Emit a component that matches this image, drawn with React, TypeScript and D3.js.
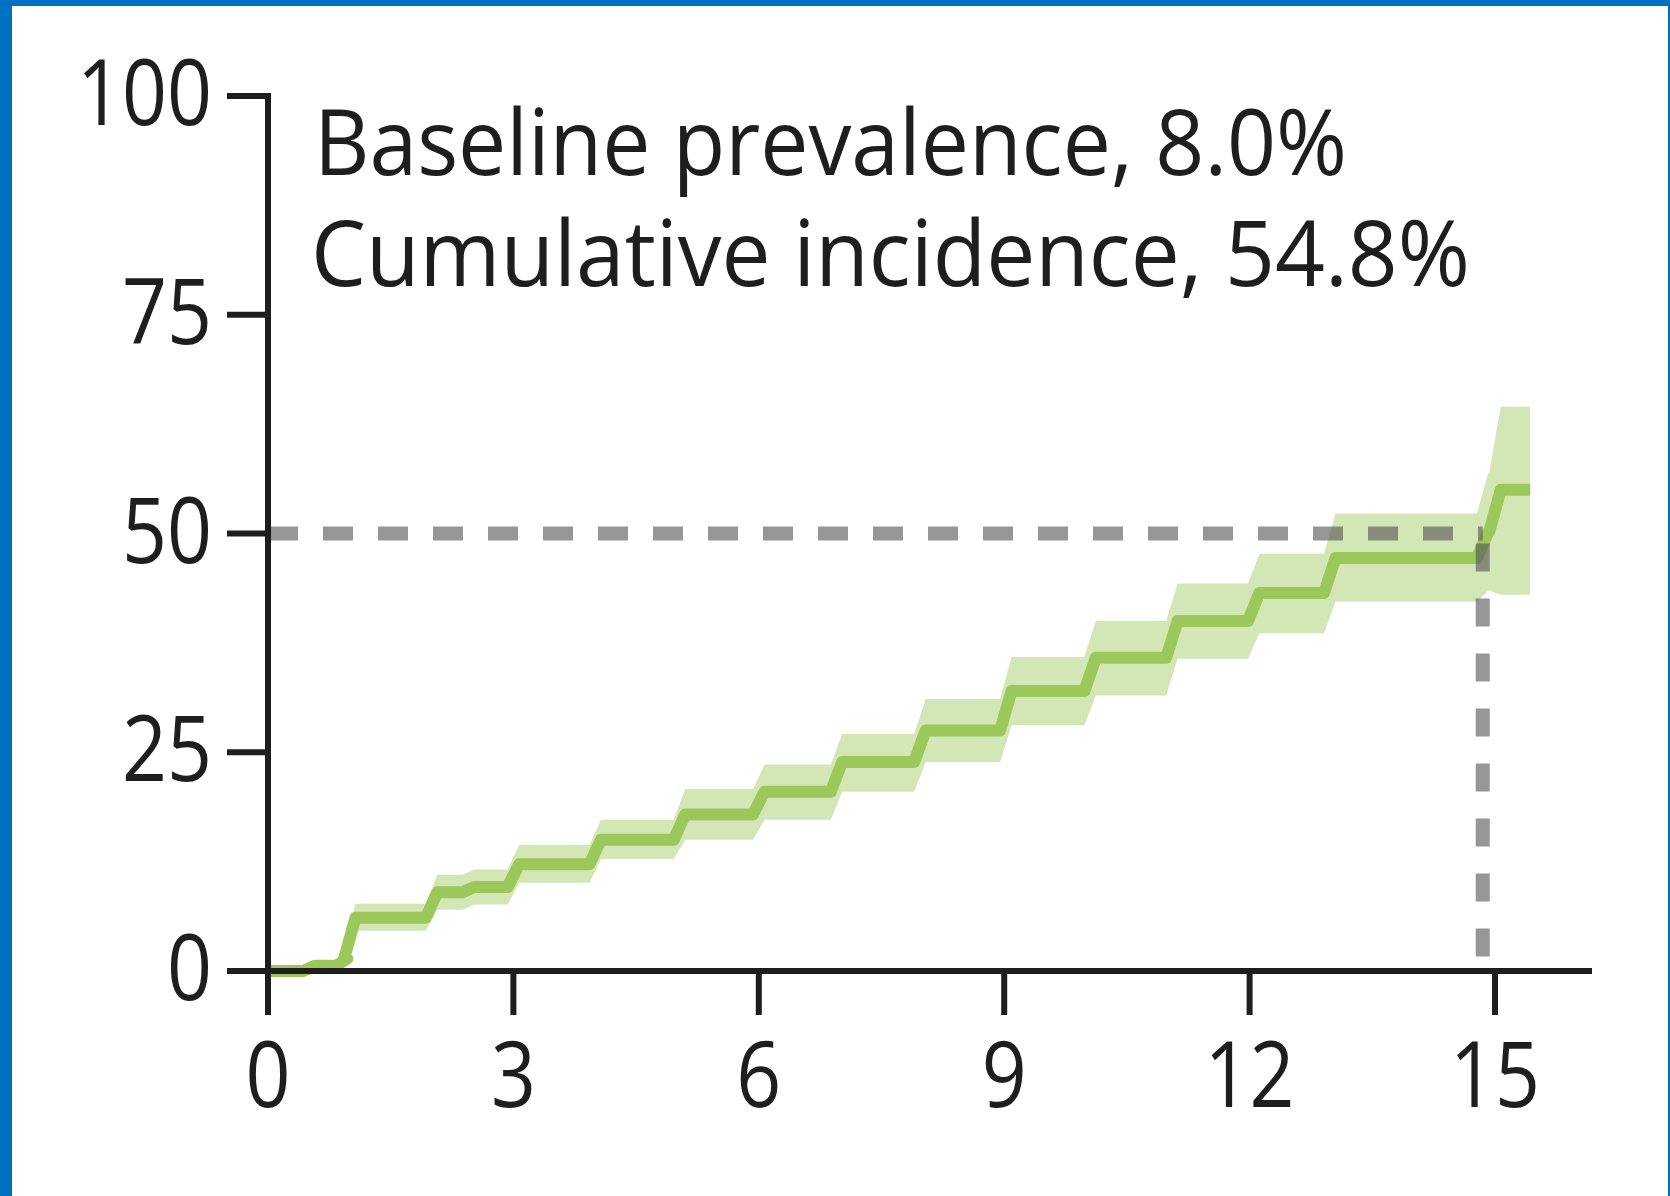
import React, { useEffect } from "react";
import * as d3 from "d3";

const stepTimes = [0, 0.5, 0.9, 1.0, 2.0, 2.45, 3.0, 4.0, 5.03, 6.0, 6.95, 7.97, 9.02, 10.05, 11.05, 12.05, 12.98, 14.85, 15.0];
const incidence = [0, 0.6, 1.4, 6.1, 9.0, 9.6, 12.2, 15.0, 17.9, 20.5, 23.9, 27.5, 32.0, 35.8, 40.0, 43.2, 47.2, 50.2, 55.0];
const lowerCI = [0, 0.3, 1.0, 4.6, 7.0, 7.6, 10.1, 12.8, 15.0, 17.3, 20.5, 23.9, 28.1, 31.5, 35.7, 38.6, 42.2, 43.5, 43.0];
const upperCI = [0, 0.9, 1.8, 7.7, 11.0, 11.6, 14.4, 17.3, 20.8, 23.6, 27.1, 31.1, 35.9, 40.0, 44.3, 47.7, 52.3, 57.0, 64.5];
const endTime = 15.43;
const xTicks = [0, 3, 6, 9, 12, 15];
const yTicks = [0, 25, 50, 75, 100];
const annotation = ["Baseline prevalence, 8.0%", "Cumulative incidence, 54.8%"];
const medianTime = 14.85;
const medianLevel = 50;

const W = 1670;
const H = 1196;
const FONT = "'Open Sans', 'Noto Sans', sans-serif";

type Pt = { t: number; v: number; lo: number; hi: number };

function buildSteps(riser: number): Pt[] {
  const pts: Pt[] = [];
  pts.push({ t: stepTimes[0], v: incidence[0], lo: lowerCI[0], hi: upperCI[0] });
  for (let i = 1; i < stepTimes.length; i++) {
    pts.push({ t: stepTimes[i] - riser, v: incidence[i - 1], lo: lowerCI[i - 1], hi: upperCI[i - 1] });
    pts.push({ t: stepTimes[i] + riser, v: incidence[i], lo: lowerCI[i], hi: upperCI[i] });
  }
  const n = stepTimes.length - 1;
  pts.push({ t: endTime, v: incidence[n], lo: lowerCI[n], hi: upperCI[n] });
  return pts;
}

export default function App() {
  useEffect(() => {
    document.body.style.margin = "0";
  }, []);

  const x = d3.scaleLinear().domain([0, 15]).range([268, 1495]);
  const y = d3.scaleLinear().domain([0, 100]).range([971, 96]);
  const pts = buildSteps(0.07);

  const line = d3.line<Pt>().x((d) => x(d.t)).y((d) => y(d.v));
  const area = d3
    .area<Pt>()
    .x((d) => x(d.t))
    .y0((d) => y(d.lo))
    .y1((d) => y(d.hi));

  const ink = "#1e1e1e";
  const textStyle = { fontVariantLigatures: "none" as const };

  return (
    <svg width={W} height={H} style={{ display: "block" }} fontFamily={FONT}>
      <rect x={0} y={0} width={W} height={H} fill="#0070c0" />
      <rect x={12} y={6} width={W - 14} height={H - 6} fill="#ffffff" />

      {/* confidence band */}
      <path d={area(pts) || ""} fill="#d3e6b6" />
      {/* cumulative incidence line */}
      <path d={line(pts) || ""} fill="none" stroke="#9cc75a" strokeWidth={12} strokeLinejoin="round" />

      {/* reference dashed lines */}
      <line
        x1={x(0)}
        x2={x(medianTime)}
        y1={y(medianLevel)}
        y2={y(medianLevel)}
        stroke="#555"
        strokeOpacity={0.62}
        strokeWidth={14}
        strokeDasharray="30 25"
      />
      <line
        x1={x(medianTime)}
        x2={x(medianTime)}
        y1={y(medianLevel) + 10}
        y2={y(0)}
        stroke="#555"
        strokeOpacity={0.62}
        strokeWidth={14}
        strokeDasharray="28 27"
      />

      {/* y axis */}
      <line x1={x(0)} x2={x(0)} y1={y(100) - 3} y2={y(0) + 44} stroke={ink} strokeWidth={6} />
      {yTicks.map((t) => (
        <g key={"y" + t}>
          <line x1={x(0) - 41} x2={x(0)} y1={y(t)} y2={y(t)} stroke={ink} strokeWidth={6} />
          <text
            x={212}
            y={y(t) + 29}
            textAnchor="end"
            fontSize={92}
            fill={ink}
            style={textStyle}
            textLength={String(t).length * 45}
            lengthAdjust="spacingAndGlyphs"
          >
            {t}
          </text>
        </g>
      ))}

      {/* x axis */}
      <line x1={x(0) - 3} x2={1592} y1={y(0)} y2={y(0)} stroke={ink} strokeWidth={6} />
      {xTicks.map((t) => (
        <g key={"x" + t}>
          <line x1={x(t)} x2={x(t)} y1={y(0)} y2={y(0) + 44} stroke={ink} strokeWidth={6} />
          <text
            x={x(t)}
            y={1107}
            textAnchor="middle"
            fontSize={92}
            fill={ink}
            style={textStyle}
            textLength={String(t).length * 45}
            lengthAdjust="spacingAndGlyphs"
          >
            {t}
          </text>
        </g>
      ))}

      {/* annotation */}
      <text x={314} y={175} fontSize={91} fill={ink} style={textStyle} textLength={1033} lengthAdjust="spacingAndGlyphs">
        {annotation[0]}
      </text>
      <text x={311} y={286} fontSize={91} fill={ink} style={textStyle} textLength={1159} lengthAdjust="spacingAndGlyphs">
        {annotation[1]}
      </text>
    </svg>
  );
}
